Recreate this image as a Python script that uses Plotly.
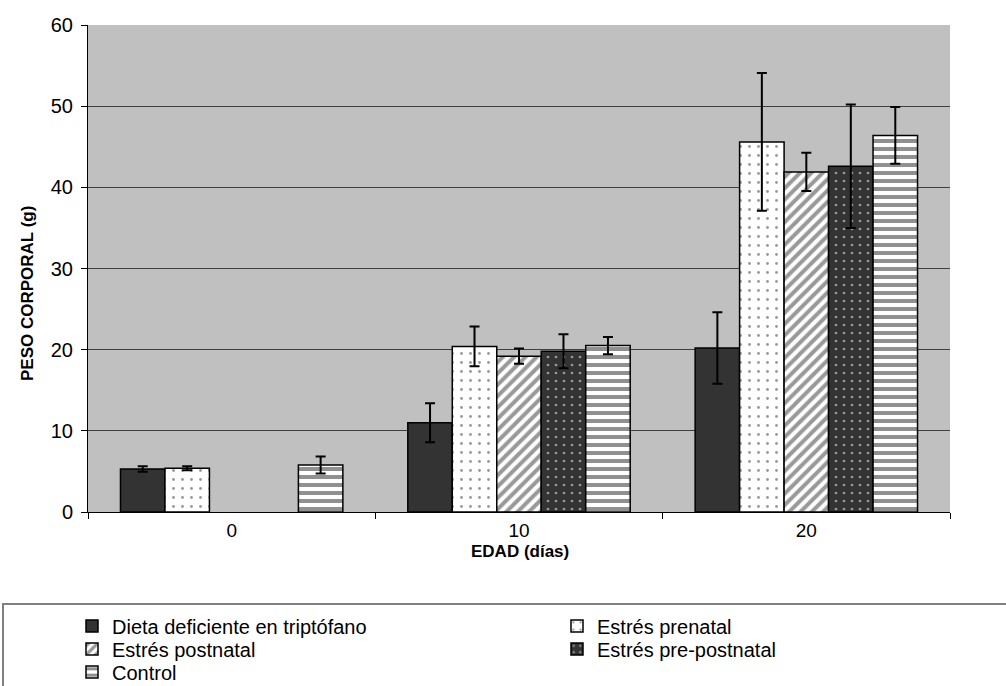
import plotly.graph_objects as go

# ---- data ----
categories = ["0", "10", "20"]
series_names = ["Dieta deficiente en triptófano", "Estrés prenatal", "Estrés postnatal",
                "Estrés pre-postnatal", "Control"]
dieta = [5.3, 11.0, 20.2]
dieta_err = [0.35, 2.4, 4.4]
prenatal = [5.4, 20.4, 45.6]
prenatal_err = [0.25, 2.45, 8.5]
postnatal = [None, 19.2, 41.9]
postnatal_err = [None, 0.95, 2.35]
prepost = [None, 19.8, 42.6]
prepost_err = [None, 2.1, 7.6]
control = [5.8, 20.5, 46.4]
control_err = [1.05, 1.05, 3.5]
y_ticks = [0, 10, 20, 30, 40, 50, 60]

W, H = 1006, 686
DARK = "#333333"
FONT = "Liberation Sans, Arial, sans-serif"

def px_x(p):
    return p / W

def px_y(p):
    return 1 - p / H

patterns = [
    dict(shape="", bgcolor=DARK, fgcolor=DARK),
    dict(shape=".", bgcolor="white", fgcolor=DARK, size=9, solidity=0.08),
    dict(shape="/", bgcolor="white", fgcolor=DARK, size=8, solidity=0.5),
    dict(shape=".", bgcolor=DARK, fgcolor="white", size=8, solidity=0.09),
    dict(shape="-", bgcolor="white", fgcolor="#222222", size=8, solidity=0.5),
]
values = [dieta, prenatal, postnatal, prepost, control]
errors = [dieta_err, prenatal_err, postnatal_err, prepost_err, control_err]
legend_ids = ["legend", "legend2", "legend3", "legend4", "legend5"]

fig = go.Figure()
for name, vals, errs, pat, lg in zip(series_names, values, errors, patterns, legend_ids):
    fig.add_trace(go.Bar(
        x=categories, y=vals, name=name, legend=lg,
        marker=dict(color=pat["bgcolor"], line=dict(color="black", width=1.5),
                    pattern=pat),
        error_y=dict(type="data", array=errs, visible=True, color="black",
                     thickness=2, width=5),
    ))

# legend positions (one legend per item, Excel-like grid)
LEG_FONT = 20
col_x = [72, 557]
row_center = [626, 649, 672]
item_half = (LEG_FONT * 1.3 + 3) / 2 + 5
positions = [(0, 0), (1, 0), (0, 1), (1, 1), (0, 2)]
legend_common = dict(font=dict(family=FONT, size=LEG_FONT, color="black"),
                     bgcolor="rgba(0,0,0,0)", borderwidth=0,
                     xanchor="left", yanchor="top")
legend_layouts = {}
for lg, (c, r) in zip(legend_ids, positions):
    legend_layouts[lg] = dict(x=px_x(col_x[c]), y=px_y(row_center[r] - item_half),
                              **legend_common)

fig.update_layout(
    width=W, height=H,
    margin=dict(l=0, r=0, t=0, b=0, autoexpand=False),
    paper_bgcolor="white",
    plot_bgcolor="#c0c0c0",
    barmode="group",
    bargap=0.226,
    bargroupgap=0,
    showlegend=True,
    font=dict(family=FONT, color="black"),
    xaxis=dict(
        domain=[px_x(88), px_x(950)],
        type="category",
        showline=True, linecolor="black", linewidth=1,
        ticks="outside", tickson="boundaries", ticklen=6, tickcolor="black",
        tickfont=dict(family=FONT, size=19, color="black"),
        ticklabelstandoff=1,
        showgrid=False, automargin=False,
    ),
    yaxis=dict(
        domain=[px_y(512), px_y(25)],
        range=[0, 60],
        tickvals=y_ticks,
        showline=True, linecolor="black", linewidth=1,
        ticks="outside", ticklen=6, tickcolor="black",
        tickfont=dict(family=FONT, size=20, color="black"),
        ticklabelstandoff=4,
        showgrid=True, gridcolor="#404040", gridwidth=1,
        zeroline=False, automargin=False,
    ),
    annotations=[
        dict(text="<b>PESO CORPORAL (g)</b>", textangle=-90,
             x=px_x(27), y=px_y(294), xref="paper", yref="paper",
             xanchor="center", yanchor="middle", showarrow=False,
             font=dict(family=FONT, size=17, color="black")),
        dict(text="<b>EDAD (días)</b>",
             x=px_x(520), y=px_y(551), xref="paper", yref="paper",
             xanchor="center", yanchor="middle", showarrow=False,
             font=dict(family=FONT, size=17, color="black")),
    ],
    shapes=[
        dict(type="rect", xref="paper", yref="paper",
             x0=px_x(3), x1=px_x(1012), y0=px_y(604), y1=px_y(692),
             line=dict(color="#808080", width=2), fillcolor="rgba(0,0,0,0)"),
    ],
    **legend_layouts,
)

fig.write_html("out.html", config={"displayModeBar": False},
               post_script="document.body.style.margin='0';")
